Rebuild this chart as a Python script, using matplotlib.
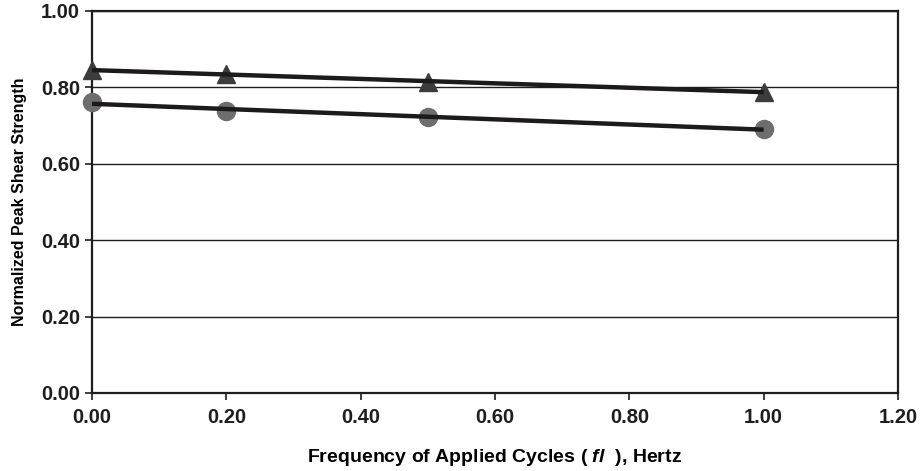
import numpy as np
import matplotlib.pyplot as plt

plt.rcParams['font.family'] = ['Liberation Sans', 'DejaVu Sans']
plt.rcParams['mathtext.fontset'] = 'custom'
plt.rcParams['mathtext.it'] = 'Liberation Sans:italic:bold'

# cycle frequency (Hz) and normalized peak shear strength
freq = [0.0, 0.2, 0.5, 1.0]
strength_tri = [0.845, 0.835, 0.815, 0.788]
strength_circ = [0.762, 0.738, 0.722, 0.691]

x_ticks = [0.0, 0.2, 0.4, 0.6, 0.8, 1.0, 1.2]
y_ticks = [0.0, 0.2, 0.4, 0.6, 0.8, 1.0]


def main():
    fig = plt.figure(figsize=(9.24, 4.71), dpi=100)
    ax = fig.add_axes([92 / 924, 78 / 471, 806 / 924, 382 / 471])

    x = np.array(freq)
    for y, marker, color, ms in [(strength_tri, "^", "#3c3c3c", 12.5),
                                 (strength_circ, "o", "#6e6e6e", 13)]:
        ax.plot(x, y, linestyle="none", marker=marker, color=color,
                markersize=ms, zorder=3, clip_on=False)
        # linear trend line across the measured range
        k, b = np.polyfit(x, y, 1)
        xs = np.array([x.min(), x.max()])
        ax.plot(xs, k * xs + b, color="#1e1a1a", linewidth=3.2, zorder=4,
                solid_capstyle="butt", clip_on=False)

    ax.set_xlim(0, 1.2)
    ax.set_ylim(0, 1.0)
    ax.set_xticks(x_ticks)
    ax.set_yticks(y_ticks)
    ax.set_xticklabels([f"{v:.2f}" for v in x_ticks])
    ax.set_yticklabels([f"{v:.2f}" for v in y_ticks])
    ax.yaxis.grid(True, color="#1e1e1e", linewidth=1.0)
    ax.set_axisbelow(True)
    for s in ax.spines.values():
        s.set_linewidth(1.6)
        s.set_color("#1e1e1e")
    ax.tick_params(axis="both", direction="out", length=5, width=1.2,
                   labelsize=14.5, colors="#1e1e1e")
    for lab in ax.get_xticklabels() + ax.get_yticklabels():
        lab.set_fontweight("bold")
    ax.tick_params(axis="x", pad=6)

    ax.set_xlabel("Frequency of Applied Cycles ( $fl$  ), Hertz",
                  fontsize=14, fontweight="bold", labelpad=14)
    ax.set_ylabel("Normalized Peak Shear Strength", fontsize=11.5,
                  fontweight="bold", labelpad=10)

    fig.savefig("out.png", dpi=100)


if __name__ == "__main__":
    main()
